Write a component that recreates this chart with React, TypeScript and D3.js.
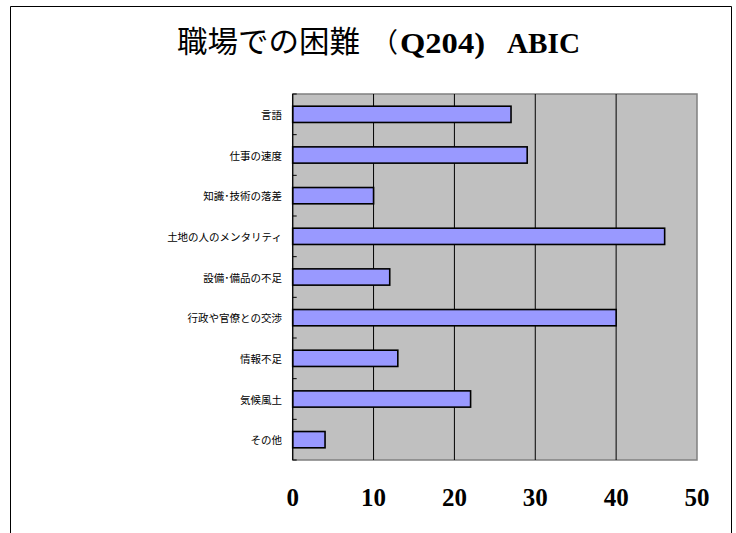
import React from "react";
import * as d3 from "d3";

const categories = [
  "言語",
  "仕事の速度",
  "知識･技術の落差",
  "土地の人のメンタリティ",
  "設備･備品の不足",
  "行政や官僚との交渉",
  "情報不足",
  "気候風土",
  "その他",
];
const values = [27, 29, 10, 46, 12, 40, 13, 22, 4];
const xTicks = [0, 10, 20, 30, 40, 50];

const W = 736;
const H = 533;
const plot = { left: 292.7, right: 697, top: 94, bottom: 460 };

export default function App() {
  const x = d3.scaleLinear().domain([0, 50]).range([plot.left, plot.right]);
  const y = d3
    .scaleBand<string>()
    .domain(categories)
    .range([plot.top, plot.bottom])
    .paddingInner(0.6)
    .paddingOuter(0.3);
  const step = y.step();
  const boundaries = d3.range(categories.length + 1).map((i) => plot.top + i * step);

  return (
    <svg
      width={W}
      height={H}
      style={{ position: "absolute", left: 0, top: 0, background: "#fff" }}
    >
      <rect x={0} y={0} width={W} height={H} fill="#fff" />
      {/* outer frame */}
      <path d={`M10.5,${H + 2} V6.5 H731.5 V${H + 2}`} fill="none" stroke="#000" strokeWidth={1} />

      {/* title */}
      <text
        x={177}
        y={52}
        textLength={183}
        lengthAdjust="spacingAndGlyphs"
        fontSize={30}
        fontFamily="'Noto Sans CJK JP', sans-serif"
        fill="#000"
      >
        職場での困難
      </text>
      <text
        x={371}
        y={52}
        fontSize={27}
        fontFamily="'Noto Sans CJK JP', sans-serif"
        fill="#000"
      >
        （
      </text>
      <text
        x={400}
        y={53}
        textLength={85}
        lengthAdjust="spacingAndGlyphs"
        fontSize={29}
        fontWeight="bold"
        fontFamily="'Liberation Serif', serif"
        fill="#000"
      >
        Q204)
      </text>
      <text
        x={507}
        y={53}
        textLength={73}
        lengthAdjust="spacingAndGlyphs"
        fontSize={29}
        fontWeight="bold"
        fontFamily="'Liberation Serif', serif"
        fill="#000"
      >
        ABIC
      </text>

      {/* plot area */}
      <rect
        x={plot.left}
        y={plot.top}
        width={plot.right - plot.left}
        height={plot.bottom - plot.top}
        fill="#c0c0c0"
        stroke="#808080"
        strokeWidth={1.5}
      />
      {/* gridlines */}
      {xTicks.slice(1, -1).map((t) => (
        <line
          key={t}
          x1={x(t)}
          x2={x(t)}
          y1={plot.top}
          y2={plot.bottom}
          stroke="#000"
          strokeWidth={1}
        />
      ))}

      {/* bars */}
      {categories.map((c, i) => (
        <rect
          key={c}
          x={x(0)}
          y={y(c)!}
          width={x(values[i]) - x(0)}
          height={y.bandwidth()}
          fill="#9999ff"
          stroke="#000"
          strokeWidth={1.6}
        />
      ))}

      {/* left axis */}
      <line x1={plot.left} x2={plot.left} y1={plot.top} y2={plot.bottom} stroke="#000" strokeWidth={1.2} />
      {boundaries.map((b, i) => (
        <line key={i} x1={plot.left} x2={plot.left + 4} y1={b} y2={b} stroke="#000" strokeWidth={1} />
      ))}

      {/* category labels */}
      {categories.map((c) => (
        <text
          key={c}
          x={282}
          y={y(c)! + y.bandwidth() / 2}
          textAnchor="end"
          dominantBaseline="central"
          fontSize={10.5}
          fontFamily="'Noto Sans CJK JP', sans-serif"
          fill="#000"
        >
          {c}
        </text>
      ))}

      {/* x tick labels */}
      {xTicks.map((t) => (
        <text
          key={t}
          x={x(t)}
          y={506}
          textAnchor="middle"
          fontSize={25}
          fontWeight="bold"
          fontFamily="'Liberation Serif', serif"
          fill="#000"
        >
          {t}
        </text>
      ))}
    </svg>
  );
}
